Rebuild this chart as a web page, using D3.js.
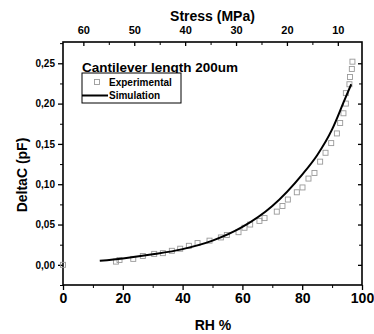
<!DOCTYPE html>
<html>
<head>
  <meta charset="utf-8">
  <script src="https://d3js.org/d3.v7.min.js"></script>
  <style>
    body { margin: 0; background: #fff; }
    svg { font-family: "Liberation Sans", Arial, sans-serif; font-weight: bold; }
    .axis path, .axis line { stroke: #000; }
    .axis text { fill: #000; font-weight: bold; }
  </style>
</head>
<body>
<svg width="374" height="334"></svg>
<script>
  // Experimental points (RH %, DeltaC pF)
  var expRH = [0, 17.7, 18.9, 23.5, 26.7, 30.5, 33.4, 36.4, 39.2, 42.1, 45, 49, 52.8, 54.8, 58.7, 60.7, 62.6, 65.7, 67.4,
    71.5, 73.4, 75.2, 78.2, 80.1, 82.1, 84.1, 86, 87.8, 89.7, 91.6, 92.7, 93.8, 94.6, 94.6, 95.8, 96, 96.6, 96.8];
  var expC = [0, 0.004, 0.006, 0.0074, 0.011, 0.0136, 0.0145, 0.0174, 0.020, 0.0236, 0.027, 0.030, 0.034, 0.037, 0.0405,
    0.046, 0.050, 0.0545, 0.058, 0.066, 0.073, 0.081, 0.090, 0.096, 0.107, 0.114, 0.128, 0.139, 0.151, 0.163, 0.176,
    0.188, 0.200, 0.213, 0.224, 0.233, 0.243, 0.252];

  // Simulation curve
  var simRH = [12.3, 20, 30, 40, 50, 60, 70, 80, 85, 90, 94, 96.4];
  var simC = [0.005, 0.008, 0.013, 0.0195, 0.03, 0.047, 0.073, 0.112, 0.136, 0.168, 0.203, 0.224];

  var rhTicks = [0, 20, 40, 60, 80, 100];
  var cTicks = [0, 0.05, 0.10, 0.15, 0.20, 0.25];
  var stressTicks = [60, 50, 40, 30, 20, 10];

  var svg = d3.select("svg");
  var L = 63, R = 362, T = 42, B = 285;

  var x = d3.scaleLinear().domain([0, 100]).range([L, R]);
  var y = d3.scaleLinear().domain([-0.025, 0.2764]).range([B, T]);
  var xs = d3.scaleLinear().domain([64, 5.25]).range([L, R]);

  var fmtC = function (d) { return d3.format(".2f")(d).replace(".", ","); };

  // minor ticks
  svg.append("g").attr("class", "axis").attr("transform", "translate(0," + B + ")")
    .call(d3.axisBottom(x).tickValues([10, 30, 50, 70, 90]).tickSize(3).tickFormat(""))
    .call(g => g.select(".domain").remove());
  svg.append("g").attr("class", "axis").attr("transform", "translate(" + L + ",0)")
    .call(d3.axisLeft(y).tickValues([-0.025, 0.025, 0.075, 0.125, 0.175, 0.225, 0.275]).tickSize(3).tickFormat(""))
    .call(g => g.select(".domain").remove());
  svg.append("g").attr("class", "axis").attr("transform", "translate(" + R + ",0)")
    .call(d3.axisLeft(y).tickValues([0.025, 0.075, 0.125, 0.175, 0.225]).tickSize(3).tickFormat(""))
    .call(g => g.select(".domain").remove());
  svg.append("g").attr("class", "axis").attr("transform", "translate(0," + T + ")")
    .call(d3.axisBottom(xs).tickValues([55, 45, 35, 25, 15]).tickSize(3).tickFormat(""))
    .call(g => g.select(".domain").remove());

  // major ticks
  svg.append("g").attr("class", "axis").attr("transform", "translate(0," + B + ")")
    .call(d3.axisBottom(x).tickValues(rhTicks).tickSize(5).tickPadding(3))
    .call(g => g.select(".domain").remove())
    .call(g => g.selectAll("text").style("font-size", "14px"))
    .call(g => g.selectAll("line").attr("stroke-width", 1.3));
  svg.append("g").attr("class", "axis").attr("transform", "translate(" + L + ",0)")
    .call(d3.axisLeft(y).tickValues(cTicks).tickSize(5).tickPadding(3).tickFormat(fmtC))
    .call(g => g.select(".domain").remove())
    .call(g => g.selectAll("text").style("font-size", "10px"))
    .call(g => g.selectAll("line").attr("stroke-width", 1.3));
  svg.append("g").attr("class", "axis").attr("transform", "translate(" + R + ",0)")
    .call(d3.axisLeft(y).tickValues(cTicks).tickSize(4).tickFormat(""))
    .call(g => g.select(".domain").remove())
    .call(g => g.selectAll("line").attr("stroke-width", 1.3));
  svg.append("g").attr("class", "axis").attr("transform", "translate(0," + T + ")")
    .call(d3.axisBottom(xs).tickValues(stressTicks).tickSize(4))
    .call(g => g.select(".domain").remove())
    .call(g => g.selectAll("text").style("font-size", "11px").attr("y", -8).attr("dy", 0))
    .call(g => g.selectAll("line").attr("stroke-width", 1.3));

  // frame
  svg.append("rect").attr("x", L).attr("y", T).attr("width", R - L).attr("height", B - T)
    .attr("fill", "none").attr("stroke", "#000").attr("stroke-width", 1.6);

  // experimental squares
  var pts = expRH.map(function (d, i) { return [d, expC[i]]; });
  svg.append("g").selectAll("rect").data(pts).enter().append("rect")
    .attr("x", d => x(d[0]) - 2.5).attr("y", d => y(d[1]) - 2.5)
    .attr("width", 5).attr("height", 5)
    .attr("fill", "none").attr("stroke", "#999").attr("stroke-width", 0.9);

  // simulation line
  var line = d3.line().x(d => x(d[0])).y(d => y(d[1])).curve(d3.curveMonotoneX);
  svg.append("path").datum(simRH.map(function (d, i) { return [d, simC[i]]; }))
    .attr("d", line).attr("fill", "none").attr("stroke", "#000").attr("stroke-width", 2);

  // title inside plot
  svg.append("text").attr("x", 82).attr("y", 72).style("font-size", "13.5px").text("Cantilever length 200um");

  // legend
  svg.append("rect").attr("x", 82).attr("y", 73).attr("width", 99).attr("height", 30)
    .attr("fill", "#fff").attr("stroke", "#000").attr("stroke-width", 1);
  svg.append("rect").attr("x", 94.5).attr("y", 79.5).attr("width", 5).attr("height", 5)
    .attr("fill", "none").attr("stroke", "#999").attr("stroke-width", 0.9);
  svg.append("line").attr("x1", 82).attr("x2", 108).attr("y1", 95.5).attr("y2", 95.5)
    .attr("stroke", "#000").attr("stroke-width", 2);
  svg.append("text").attr("x", 109).attr("y", 85.5).style("font-size", "10px").text("Experimental");
  svg.append("text").attr("x", 109).attr("y", 98.5).style("font-size", "10px").text("Simulation");

  // axis titles
  svg.append("text").attr("x", (L + R) / 2).attr("y", 21).attr("text-anchor", "middle")
    .style("font-size", "14px").text("Stress (MPa)");
  svg.append("text").attr("x", 213).attr("y", 330).attr("text-anchor", "middle")
    .style("font-size", "14px").text("RH %");
  svg.append("text").attr("transform", "translate(27,175) rotate(-90)").attr("text-anchor", "middle")
    .style("font-size", "14px").text("DeltaC (pF)");
</script>
</body>
</html>
